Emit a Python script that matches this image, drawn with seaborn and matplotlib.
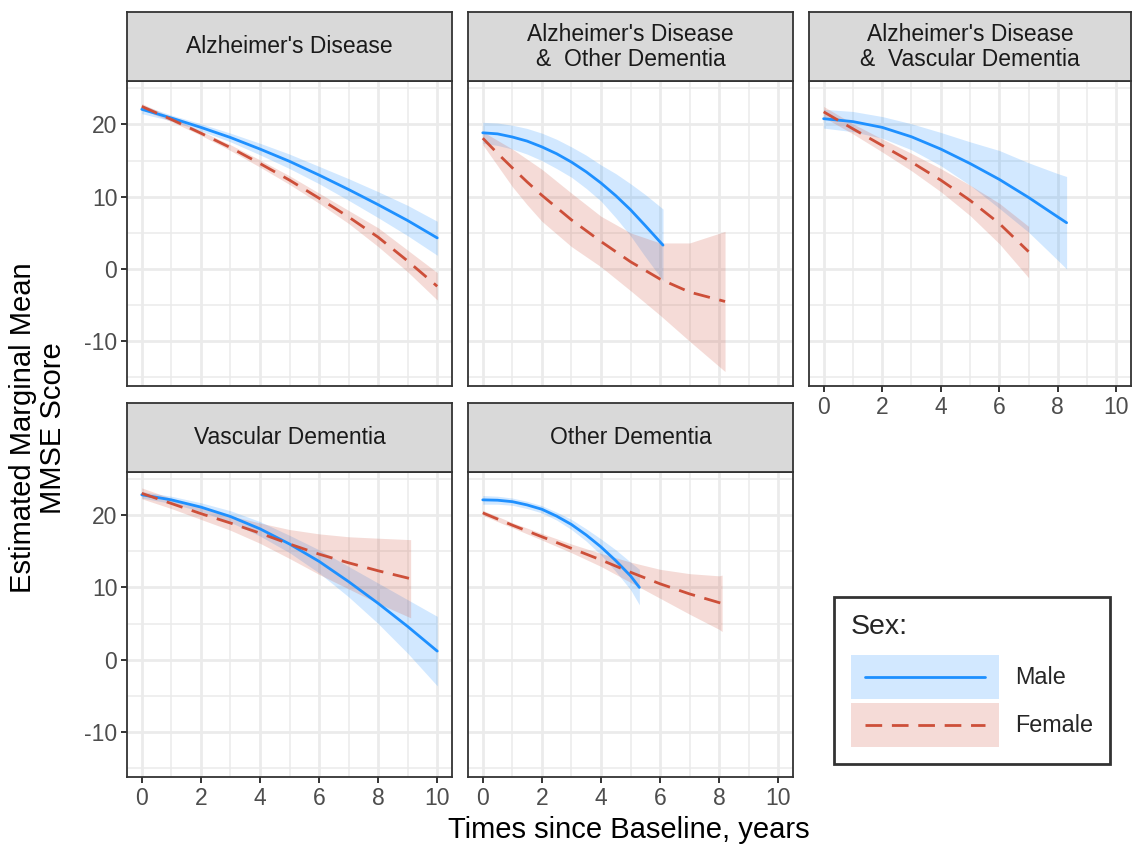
import numpy as np
import pandas as pd
import matplotlib
matplotlib.use("Agg")
import matplotlib.pyplot as plt
import seaborn as sns
from matplotlib.patches import Rectangle
from matplotlib.lines import Line2D
from matplotlib.legend_handler import HandlerBase

# ---------------------------------------------------------------- data
diagnoses = [
    "Alzheimer's Disease",
    "Alzheimer's Disease\n&  Other Dementia",
    "Alzheimer's Disease\n&  Vascular Dementia",
    "Vascular Dementia",
    "Other Dementia",
]
sexes = ["Male", "Female"]

# Alzheimer's Disease
ad_male_t = [0, 1, 2, 3, 4, 5, 6, 7, 8, 9, 10]
ad_male_mean = [22.1, 20.9, 19.6, 18.2, 16.6, 14.9, 13.0, 11.0, 8.9, 6.7, 4.3]
ad_male_low = [21.5, 20.5, 19.1, 17.6, 15.8, 13.9, 11.8, 9.5, 7.1, 4.6, 1.9]
ad_male_high = [22.7, 21.3, 20.1, 18.8, 17.4, 15.9, 14.2, 12.5, 10.7, 8.8, 6.6]
ad_female_t = [0, 1, 2, 3, 4, 5, 6, 7, 8, 9, 10]
ad_female_mean = [22.5, 20.7, 18.8, 16.8, 14.6, 12.3, 9.8, 7.2, 4.4, 1.1, -2.4]
ad_female_low = [22.1, 20.4, 18.5, 16.4, 14.1, 11.7, 9.1, 6.3, 3.1, -0.4, -4.3]
ad_female_high = [22.9, 21.0, 19.1, 17.2, 15.1, 12.9, 10.5, 8.1, 5.7, 2.6, -0.5]

# Alzheimer's Disease & Other Dementia
ado_male_t = [0, 0.5, 1, 1.5, 2, 2.5, 3, 3.5, 4, 4.5, 5, 5.5, 6.1]
ado_male_mean = [18.85, 18.7, 18.27, 17.7, 16.9, 15.95, 14.8, 13.45, 11.9, 10.15, 8.2, 6.0, 3.3]
ado_male_low = [17.4, 17.1, 16.6, 15.9, 15.0, 13.9, 12.7, 11.15, 9.4, 7.1, 4.6, 1.7, -1.6]
ado_male_high = [20.3, 20.2, 19.9, 19.45, 18.8, 17.95, 16.9, 15.75, 14.4, 13.2, 11.8, 10.3, 8.3]
ado_female_t = [0, 0.5, 1, 1.5, 2, 3, 4, 5, 6, 7, 8.2]
ado_female_mean = [18.1, 16.0, 14.0, 12.05, 10.2, 6.8, 3.8, 1.0, -1.4, -3.2, -4.5]
ado_female_low = [17.2, 14.3, 11.4, 8.9, 6.6, 3.1, 0.3, -3.0, -6.4, -10.0, -14.2]
ado_female_high = [19.0, 17.8, 16.6, 15.2, 13.8, 10.5, 7.3, 5.0, 3.6, 3.6, 5.2]

# Alzheimer's Disease & Vascular Dementia
adv_male_t = [0, 1, 2, 3, 4, 5, 6, 7, 8, 8.3]
adv_male_mean = [20.8, 20.4, 19.6, 18.3, 16.6, 14.6, 12.4, 9.9, 7.2, 6.4]
adv_male_low = [19.5, 19.0, 18.1, 16.5, 14.3, 11.6, 8.4, 5.1, 1.2, 0.0]
adv_male_high = [22.1, 21.8, 21.1, 20.1, 18.9, 17.6, 16.4, 14.7, 13.2, 12.8]
adv_female_t = [0, 1, 2, 3, 4, 5, 6, 7]
adv_female_mean = [21.75, 19.4, 17.1, 14.8, 12.3, 9.5, 6.3, 2.4]
adv_female_low = [21.0, 18.7, 16.2, 13.6, 10.7, 7.4, 3.5, -1.2]
adv_female_high = [22.5, 20.1, 18.0, 16.0, 13.9, 11.6, 9.1, 5.9]

# Vascular Dementia
vd_male_t = [0, 1, 2, 3, 4, 5, 6, 7, 8, 9, 10]
vd_male_mean = [22.8, 22.1, 21.1, 19.8, 18.1, 16.0, 13.6, 10.8, 7.8, 4.6, 1.2]
vd_male_low = [22.35, 21.6, 20.5, 19.0, 17.1, 14.8, 12.0, 8.7, 5.0, 0.9, -3.6]
vd_male_high = [23.25, 22.6, 21.7, 20.6, 19.1, 17.2, 15.2, 12.9, 10.6, 8.3, 6.0]
vd_female_t = [0, 1, 2, 3, 4, 5, 6, 7, 8, 9.1]
vd_female_mean = [23.0, 21.6, 20.2, 18.9, 17.5, 16.0, 14.6, 13.4, 12.3, 11.2]
vd_female_low = [22.25, 20.9, 19.4, 17.9, 16.1, 14.0, 11.8, 9.8, 7.8, 5.8]
vd_female_high = [23.75, 22.3, 21.0, 19.9, 18.9, 18.0, 17.4, 17.0, 16.8, 16.6]

# Other Dementia
od_male_t = [0, 0.5, 1, 1.5, 2, 2.5, 3, 3.5, 4, 4.5, 5, 5.3]
od_male_mean = [22.1, 22.05, 21.85, 21.4, 20.8, 19.85, 18.7, 17.25, 15.6, 13.7, 11.6, 10.0]
od_male_low = [21.5, 21.5, 21.35, 20.9, 20.3, 19.3, 18.0, 16.4, 14.5, 12.2, 9.7, 7.6]
od_male_high = [22.7, 22.6, 22.35, 21.9, 21.3, 20.4, 19.4, 18.1, 16.7, 15.2, 13.5, 12.5]
od_female_t = [0, 1, 2, 3, 4, 5, 6, 7, 8, 8.1]
od_female_mean = [20.3, 18.6, 17.0, 15.4, 13.8, 12.1, 10.5, 9.1, 7.9, 7.8]
od_female_low = [19.95, 18.25, 16.55, 14.8, 12.9, 10.7, 8.5, 6.3, 4.2, 3.9]
od_female_high = [20.65, 18.95, 17.45, 16.0, 14.7, 13.5, 12.5, 11.9, 11.6, 11.7]

x_ticks = [0, 2, 4, 6, 8, 10]
y_ticks = [-10, 0, 10, 20]
x_minor = [1, 3, 5, 7, 9]
y_minor = [-15, -5, 5, 15, 25]

series = {
    diagnoses[0]: {"Male": (ad_male_t, ad_male_mean, ad_male_low, ad_male_high),
                   "Female": (ad_female_t, ad_female_mean, ad_female_low, ad_female_high)},
    diagnoses[1]: {"Male": (ado_male_t, ado_male_mean, ado_male_low, ado_male_high),
                   "Female": (ado_female_t, ado_female_mean, ado_female_low, ado_female_high)},
    diagnoses[2]: {"Male": (adv_male_t, adv_male_mean, adv_male_low, adv_male_high),
                   "Female": (adv_female_t, adv_female_mean, adv_female_low, adv_female_high)},
    diagnoses[3]: {"Male": (vd_male_t, vd_male_mean, vd_male_low, vd_male_high),
                   "Female": (vd_female_t, vd_female_mean, vd_female_low, vd_female_high)},
    diagnoses[4]: {"Male": (od_male_t, od_male_mean, od_male_low, od_male_high),
                   "Female": (od_female_t, od_female_mean, od_female_low, od_female_high)},
}

rows = []
for dx, by_sex in series.items():
    for sex, (t, m, lo, hi) in by_sex.items():
        for ti, mi, li, hi_ in zip(t, m, lo, hi):
            rows.append({"Diagnosis": dx, "Sex": sex, "Time": ti,
                         "Mean": mi, "Lower": li, "Upper": hi_})
df = pd.DataFrame(rows)

# ---------------------------------------------------------------- style
sns.set_theme(style="white")
plt.rcParams["font.family"] = ["Liberation Sans", "DejaVu Sans"]
plt.rcParams["axes.unicode_minus"] = False

palette = {"Male": "#1E90FF", "Female": "#CD4F39"}
dash_map = {"Male": "", "Female": (6, 3.5)}
band_alpha = 0.2
border_col = "#333333"
grid_col = "#EBEBEB"
tick_col = "#4D4D4D"
tick_fs = 16.5
strip_fs = 16.5
title_fs = 21

W, H = 1139, 846
fig = plt.figure(figsize=(W / 100, H / 100), dpi=100)


def frac(left, top, right, bottom):
    return [left / W, 1 - bottom / H, (right - left) / W, (bottom - top) / H]


cols = [(127, 452), (468, 793), (809, 1131)]
rows_px = [(12, 81.5, 386), (403, 472, 777)]
layout = [(0, 0), (0, 1), (0, 2), (1, 0), (1, 1)]

for idx, dx in enumerate(diagnoses):
    r, c = layout[idx]
    left, right = cols[c]
    s_top, p_top, p_bot = rows_px[r]

    ax = fig.add_axes(frac(left, p_top, right, p_bot))
    sub = df[df["Diagnosis"] == dx]

    for sex in sexes:
        g = sub[sub["Sex"] == sex]
        ax.fill_between(g["Time"], g["Lower"], g["Upper"],
                        color=palette[sex], alpha=band_alpha, linewidth=0, zorder=2)
    sns.lineplot(data=sub, x="Time", y="Mean", hue="Sex", style="Sex",
                 hue_order=sexes, style_order=sexes, palette=palette,
                 dashes=dash_map, linewidth=2.0, legend=False, ax=ax,
                 estimator=None, sort=True, zorder=3)

    ax.set_xticks(x_ticks)
    ax.set_yticks(y_ticks)
    ax.set_xticks(x_minor, minor=True)
    ax.set_yticks(y_minor, minor=True)
    ax.set_xlim(-0.5, 10.5)
    ax.set_ylim(-16.2, 25.95)
    ax.grid(True, which="major", color=grid_col, linewidth=2.0, zorder=0)
    ax.grid(True, which="minor", color=grid_col, linewidth=1.1, zorder=0)
    ax.set_axisbelow(True)
    for sp in ax.spines.values():
        sp.set_color(border_col)
        sp.set_linewidth(1.3)
        sp.set_zorder(5)
    ax.set_xlabel("")
    ax.set_ylabel("")
    ax.tick_params(which="minor", length=0)
    show_x = (r == 1) or (c == 2)
    show_y = (c == 0)
    ax.tick_params(axis="x", which="major", bottom=show_x, labelbottom=show_x,
                   length=4, width=1.4, color=border_col, labelsize=tick_fs,
                   labelcolor=tick_col, pad=3)
    ax.tick_params(axis="y", which="major", left=show_y, labelleft=show_y,
                   length=4, width=1.4, color=border_col, labelsize=tick_fs,
                   labelcolor=tick_col, pad=3)

    # facet strip
    sax = fig.add_axes(frac(left, s_top, right, p_top))
    sax.set_facecolor("#D9D9D9")
    sax.set_xticks([])
    sax.set_yticks([])
    for sp in sax.spines.values():
        sp.set_color(border_col)
        sp.set_linewidth(1.3)
    sax.text(0.5, 0.5, dx, ha="center", va="center", fontsize=strip_fs,
             color="#1A1A1A", linespacing=1.12, transform=sax.transAxes)

fig.text(629 / W, 1 - 830 / H, "Times since Baseline, years", ha="center",
         va="center", fontsize=title_fs, color="black")
fig.text(38 / W, 1 - 428 / H, "Estimated Marginal Mean\nMMSE Score", ha="center",
         va="center", rotation=90, fontsize=title_fs, color="black",
         linespacing=1.08)


# ---------------------------------------------------------------- legend
class BandLineHandler(HandlerBase):
    def create_artists(self, legend, orig_handle, xdescent, ydescent,
                       width, height, fontsize, trans):
        color, dashes = orig_handle
        rect = Rectangle((-xdescent, -ydescent), width, height,
                         facecolor=color, alpha=band_alpha, edgecolor="none",
                         transform=trans)
        pad = 0.095 * width
        y = -ydescent + height / 2
        line = Line2D([-xdescent + pad, -xdescent + width - pad], [y, y],
                      color=color, linewidth=2.0, transform=trans)
        if dashes:
            line.set_dashes(dashes)
        return [rect, line]


class Key:
    def __init__(self, color, dashes):
        self.color = color
        self.dashes = dashes

    def __iter__(self):
        return iter((self.color, self.dashes))


keys = [Key(palette[s], dash_map[s]) for s in sexes]
leg = fig.legend(keys, sexes, handler_map={Key: BandLineHandler()},
                 title="Sex:", loc="upper left",
                 bbox_to_anchor=(834 / W, 1 - 597 / H),
                 fontsize=16.8, title_fontsize=20.5, frameon=True,
                 handlelength=6.35, handleheight=2.53, handletextpad=0.69,
                 labelspacing=0.17, borderpad=0.72, borderaxespad=0,
                 alignment="left", fancybox=False)
leg._legend_box.sep = 11
leg.get_frame().set_edgecolor("black")
leg.get_frame().set_linewidth(2.0)

fig.savefig("out.png", dpi=100)
